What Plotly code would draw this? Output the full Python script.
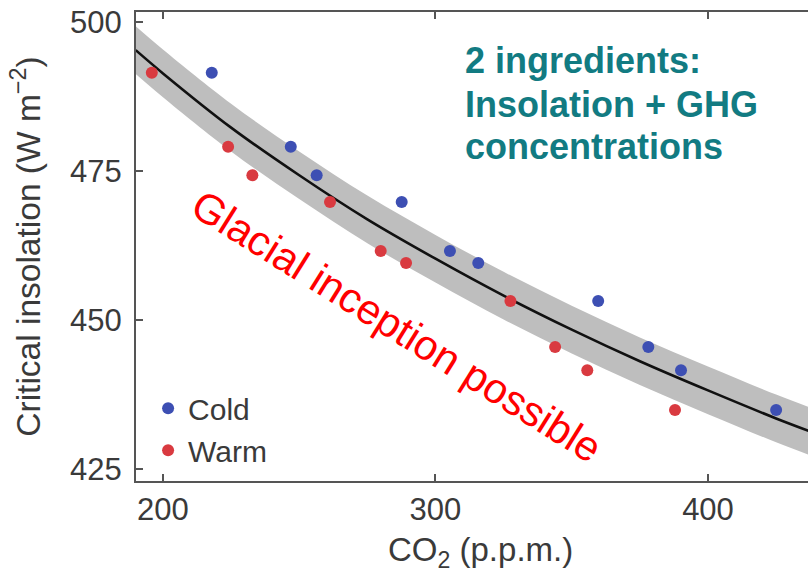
import plotly.graph_objects as go

# ---- data ----
cold_co2 = [217.9, 246.9, 256.4, 287.6, 305.3, 315.7, 359.7, 378.1, 390.1, 425.0]
cold_ins = [491.5, 479.1, 474.3, 469.8, 461.6, 459.6, 453.2, 445.5, 441.6, 434.9]
warm_co2 = [195.9, 223.9, 232.8, 261.3, 279.9, 289.2, 327.5, 343.9, 355.7, 387.9]
warm_ins = [491.5, 479.1, 474.3, 469.8, 461.6, 459.6, 453.2, 445.5, 441.6, 434.9]

curve_co2 = [190, 200, 225, 250, 275, 300, 325, 350, 375, 400, 425, 440]
curve_ins = [495.3, 491.4, 482.3, 474.3, 466.9, 460.3, 454.1, 448.4, 443.1, 438.2, 433.5, 430.9]
band_upper = [499.3, 495.4, 486.3, 478.3, 470.9, 464.3, 458.1, 452.4, 447.1, 442.2, 437.5, 434.9]
band_lower = [491.3, 487.4, 478.3, 470.3, 462.9, 456.3, 450.1, 444.4, 439.1, 434.2, 429.5, 426.9]

x_ticks = [200, 300, 400]
y_ticks = [425, 450, 475, 500]

FONT = "Liberation Sans, Arial, Helvetica, sans-serif"
TXT = "#3a3a3a"
AX = "#555555"

fig = go.Figure()

# uncertainty band
fig.add_trace(go.Scatter(x=curve_co2, y=band_upper, mode="lines", line=dict(width=0, shape="spline"),
                         showlegend=False, hoverinfo="skip"))
fig.add_trace(go.Scatter(x=curve_co2, y=band_lower, mode="lines", line=dict(width=0, shape="spline"),
                         fill="tonexty", fillcolor="#bebebe", showlegend=False, hoverinfo="skip"))
# fit curve
fig.add_trace(go.Scatter(x=curve_co2, y=curve_ins, mode="lines",
                         line=dict(color="#111111", width=2.6, shape="spline"), showlegend=False))
# points
fig.add_trace(go.Scatter(x=cold_co2, y=cold_ins, mode="markers", name="Cold",
                         marker=dict(color="#3d4fb3", size=12)))
fig.add_trace(go.Scatter(x=warm_co2, y=warm_ins, mode="markers", name="Warm",
                         marker=dict(color="#d93a40", size=12)))

# annotations
teal = "#127b82"
for txt, yv in [("2 ingredients:", 493.6), ("Insolation + GHG", 486.2), ("concentrations", 479.2)]:
    fig.add_annotation(x=310.0, y=yv, xref="x", yref="y", text=txt, showarrow=False,
                       xanchor="left", yanchor="middle",
                       font=dict(family=FONT, size=36, color=teal, weight="bold"))

fig.add_annotation(x=286.0, y=449.0, xref="x", yref="y", text="Glacial inception possible",
                   showarrow=False, textangle=32, xanchor="center", yanchor="middle",
                   font=dict(family=FONT, size=42, color="#ff0000"))

# x-axis title (placed as annotation: the original axis continues past the right edge)
fig.add_annotation(x=0.512, y=-0.152, xref="paper", yref="paper", text="CO<sub>2</sub> (p.p.m.)",
                   showarrow=False, xanchor="center", yanchor="middle",
                   font=dict(family=FONT, size=33, color=TXT))

fig.update_layout(
    width=808, height=577,
    margin=dict(l=136, r=0, t=12, b=96),
    paper_bgcolor="white", plot_bgcolor="white",
    font=dict(family=FONT, color=TXT),
    legend=dict(x=0.018, y=0.01, xanchor="left", yanchor="bottom", traceorder="normal",
                font=dict(size=30, color=TXT), bgcolor="rgba(0,0,0,0)",
                itemwidth=30, tracegroupgap=0),
    xaxis=dict(range=[190.1, 436.7], tickvals=x_ticks, ticks="inside", ticklen=7, tickwidth=2,
               tickcolor=AX, showline=True, linecolor=AX, linewidth=2, mirror="ticks",
               showgrid=False, zeroline=False, tickfont=dict(size=31, color=TXT)),
    yaxis=dict(range=[423.0, 501.7], tickvals=y_ticks, ticks="inside", ticklen=7, tickwidth=2,
               tickcolor=AX, showline=True, linecolor=AX, linewidth=2, mirror=False,
               showgrid=False, zeroline=False, tickfont=dict(size=31, color=TXT),
               ticklabelstandoff=6,
               title=dict(text="Critical insolation (W m<sup>−2</sup>)", font=dict(size=33.5, color=TXT),
                          standoff=19)),
)

fig.write_html("out.html")
